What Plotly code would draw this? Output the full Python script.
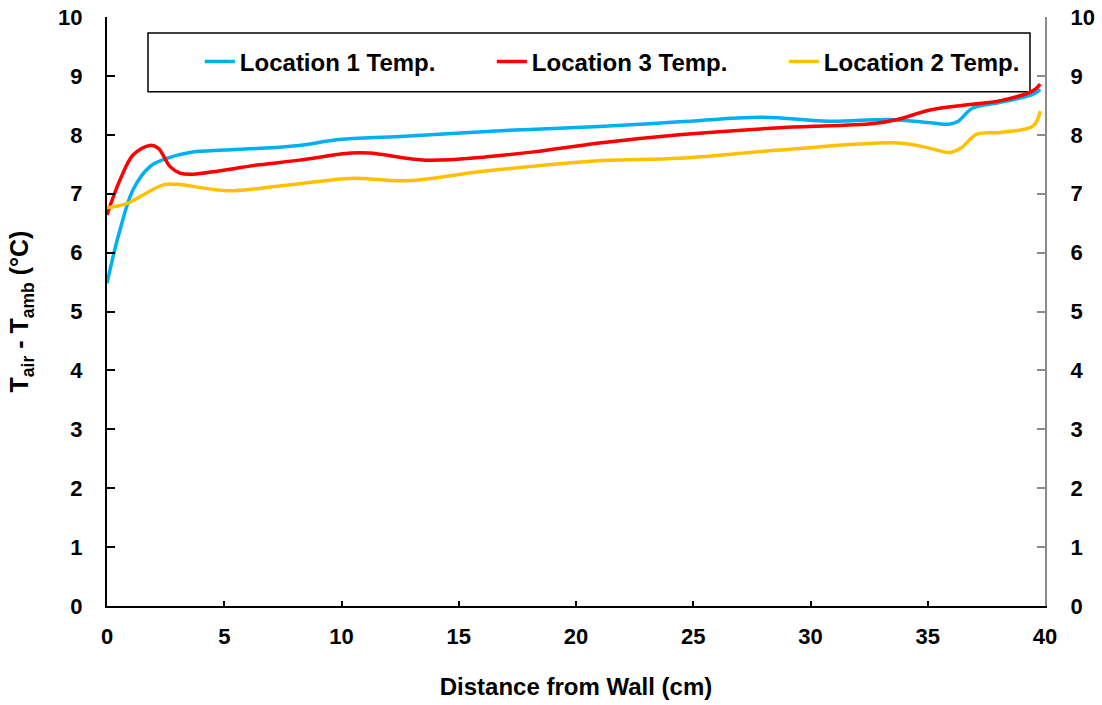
import plotly.graph_objects as go

# Location 1 (blue)
x1 = [0, 0.3, 0.55, 1.1, 1.83, 2.55, 3.54, 5, 6.5, 8.2, 9.9, 12.5, 16.8, 21, 24.4, 27.9, 30.8, 33.4, 35.2, 35.9, 36.3, 36.9, 38.1, 39.5, 39.8]
y1 = [5.48, 6.0, 6.38, 7.06, 7.46, 7.6, 7.70, 7.74, 7.77, 7.82, 7.92, 7.97, 8.07, 8.14, 8.22, 8.30, 8.23, 8.26, 8.20, 8.18, 8.23, 8.45, 8.55, 8.69, 8.77]
# Location 3 (red)
x3 = [0, 0.55, 1.12, 1.83, 2.19, 2.69, 3.11, 3.54, 6.5, 8.2, 10.4, 11.2, 13.6, 16.05, 18.2, 21, 24.4, 28.7, 32.7, 33.7, 35.1, 36.7, 38.1, 39.5, 39.8]
y3 = [6.64, 7.23, 7.66, 7.82, 7.77, 7.46, 7.35, 7.33, 7.49, 7.57, 7.69, 7.69, 7.57, 7.62, 7.71, 7.86, 8.0, 8.12, 8.19, 8.26, 8.42, 8.51, 8.58, 8.75, 8.86]
# Location 2 (yellow)
x2 = [0, 0.84, 1.41, 2.4, 2.97, 5.1, 6.5, 8.2, 10.4, 12.8, 16.05, 21, 24.4, 28.7, 33.8, 35.1, 35.95, 36.4, 37.1, 38.1, 39.5, 39.8]
y2 = [6.76, 6.83, 6.95, 7.15, 7.16, 7.05, 7.09, 7.17, 7.26, 7.22, 7.38, 7.56, 7.60, 7.74, 7.86, 7.77, 7.70, 7.77, 8.01, 8.04, 8.15, 8.40]

names = ["Location 1 Temp.", "Location 3 Temp.", "Location 2 Temp."]
colors = ["#00B0F0", "#FF0000", "#FFC000"]

FONT = "Arial, Liberation Sans, sans-serif"

fig = go.Figure()
for xs, ys, n, c in zip([x1, x3, x2], [y1, y3, y2], names, colors):
    fig.add_trace(go.Scatter(x=xs, y=ys, name=n, mode="lines",
                             line=dict(color=c, width=3.5, shape="spline", smoothing=1.0)))
# invisible trace for right axis
fig.add_trace(go.Scatter(x=[0], y=[0], yaxis="y2", mode="markers",
                         marker=dict(opacity=0), showlegend=False, hoverinfo="skip"))

tickfont = dict(family=FONT, size=22, color="black", weight="bold")
common_y = dict(range=[0, 10], dtick=1, tick0=0, showline=True, linewidth=2,
                ticks="inside", ticklen=8, tickwidth=1.5, showgrid=False,
                zeroline=False, tickfont=tickfont, automargin=False)

fig.update_layout(
    width=1102, height=705,
    margin=dict(l=107, r=57, t=17, b=99),
    plot_bgcolor="white", paper_bgcolor="white",
    font=dict(family=FONT, color="black"),
    xaxis=dict(range=[0, 40], dtick=5, tick0=0, showline=True, linecolor="black", linewidth=2,
               ticks="inside", ticklen=5, tickwidth=1.5, tickcolor="black", showgrid=False, zeroline=False,
               tickfont=tickfont, automargin=False, ticklabelstandoff=10,
               title=dict(text="<b>Distance from Wall (cm)</b>", font=dict(family=FONT, size=24), standoff=30)),
    yaxis=dict(**common_y, linecolor="black", tickcolor="black", ticklabelstandoff=18,
               title=dict(text="<b>T<sub>air</sub> - T<sub>amb</sub> (°C)</b>", font=dict(family=FONT, size=25), standoff=22)),
    yaxis2=dict(**common_y, linecolor="#8C8C8C", tickcolor="#8C8C8C",
                overlaying="y", side="right", ticklabelstandoff=19),
    legend=dict(orientation="h", x=0.099, y=0.9236, xanchor="left", yanchor="middle",
                borderwidth=0, bgcolor="rgba(0,0,0,0)",
                font=dict(family=FONT, size=24, color="black", weight="bold"),
                entrywidth=247, entrywidthmode="pixels", tracegroupgap=0),
    shapes=[dict(type="rect", xref="paper", yref="paper", x0=0.0437, x1=0.984, y0=0.873, y1=0.973,
                 line=dict(color="black", width=1.5), fillcolor="white", layer="below")],
    showlegend=True,
)
fig.write_html("out.html")
